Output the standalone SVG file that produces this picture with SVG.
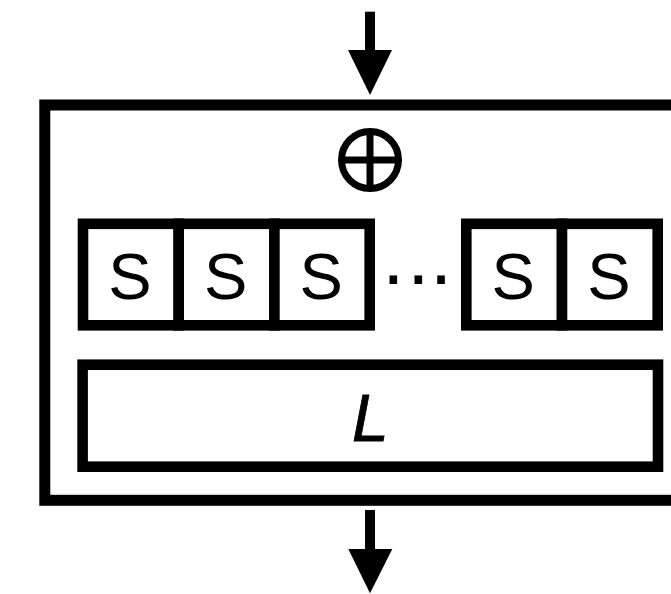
<svg xmlns="http://www.w3.org/2000/svg" width="671" height="594" viewBox="0 0 671 594">
  <style>
    .frame { fill: none; stroke: #000; stroke-width: 11; }
    .cell { fill: #fff; stroke: #000; stroke-width: 10.6; }
    .lbl { font-family: "Liberation Sans", Arial, sans-serif; font-size: 65px; fill: #000; text-anchor: middle; }
    .lbl-l { font-family: "Liberation Sans", Arial, sans-serif; font-size: 66px; font-style: italic; fill: #000; stroke: #000; stroke-width: 0.8; text-anchor: middle; }
    .dots { font-family: "Liberation Sans", Arial, sans-serif; font-size: 80px; fill: #000; text-anchor: middle; }
  </style>
  <rect width="671" height="594" fill="#fff"/>

  <!-- outer round block (extends past the right edge) -->
  <g id="block">
    <rect class="frame" x="44.8" y="105" width="700" height="395.3"/>
  </g>

  <!-- key addition -->
  <g id="xor">
    <circle cx="370" cy="160" r="28.5" fill="none" stroke="#000" stroke-width="7"/>
    <line x1="341.5" y1="160" x2="398.5" y2="160" stroke="#000" stroke-width="7"/>
    <line x1="370" y1="131.5" x2="370" y2="188.5" stroke="#000" stroke-width="7"/>
  </g>

  <!-- substitution layer -->
  <g id="s1"><rect class="cell" x="83" y="223.8" width="95.7" height="101.5"/><text class="lbl" x="130" y="298.5">S</text></g>
  <g id="s2"><rect class="cell" x="178.7" y="223.8" width="95.7" height="101.5"/><text class="lbl" x="225.7" y="298.5">S</text></g>
  <g id="s3"><rect class="cell" x="274.4" y="223.8" width="95.3" height="101.5"/><text class="lbl" x="321.2" y="298.5">S</text></g>
  <g id="ellipsis"><text class="dots" x="393.3 418.3 441" y="300.5">···</text></g>
  <g id="s4"><rect class="cell" x="466.3" y="223.8" width="95.7" height="101.5"/><text class="lbl" x="513.3" y="298.5">S</text></g>
  <g id="s5"><rect class="cell" x="562" y="223.8" width="95.7" height="101.5"/><text class="lbl" x="609" y="298.5">S</text></g>

  <!-- linear layer -->
  <g id="linear">
    <rect class="cell" x="82.6" y="364.7" width="575.4" height="102"/>
    <text class="lbl-l" x="370.3" y="441">L</text>
  </g>

  <!-- input / output arrows -->
  <g id="connectors" fill="#000">
    <rect x="365" y="11.7" width="10" height="39"/>
    <polygon points="348,50 392,50 370,95"/>
    <rect x="365" y="510" width="10" height="40"/>
    <polygon points="348.3,549 392.3,549 370,593.3"/>
  </g>
</svg>
